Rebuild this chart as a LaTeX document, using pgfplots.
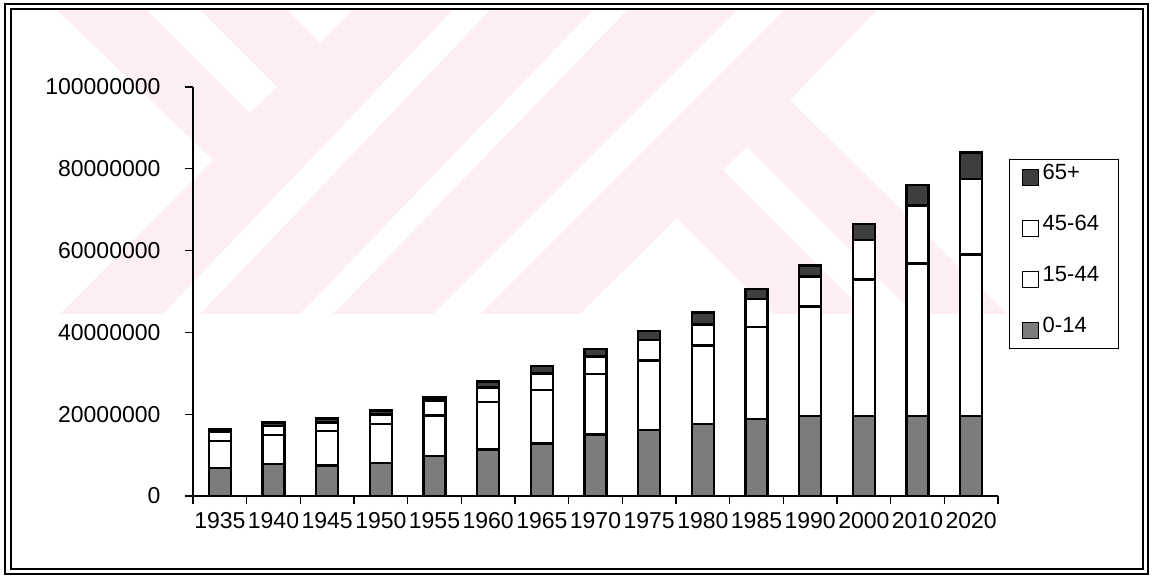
\documentclass[border=0pt]{standalone}
\usepackage{pgfplots}
\pgfplotsset{compat=1.18}
\usepackage{pgfplotstable}
\usepackage{fontspec}
\setmainfont{Liberation Sans}
\definecolor{kid}{HTML}{7C7C7C}
\definecolor{old}{HTML}{3E3E3E}
\definecolor{wm}{HTML}{FDEEF1}
\pgfplotstableread{
x  year a b c d
0  1935 6800000  6600000  2200000 600000
1  1940 7800000  7100000  2200000 900000
2  1945 7400000  8500000  2100000 1000000
3  1950 8100000  9500000  2400000 900000
4  1955 9800000  9900000  3600000 800000
5  1960 11400000 11600000 3500000 1500000
6  1965 12900000 13000000 4100000 1800000
7  1970 15100000 14700000 4300000 1800000
8  1975 16100000 17100000 4900000 2200000
9  1980 17600000 19200000 5100000 2900000
10 1985 18800000 22500000 6900000 2400000
11 1990 19600000 26700000 7300000 2800000
12 2000 19600000 33400000 9600000 3900000
13 2010 19600000 37300000 14100000 5000000
14 2020 19600000 39500000 18400000 6500000
}\datatable
\begin{document}
\begin{tikzpicture}[x=1pt,y=1pt]
\useasboundingbox (0,0) rectangle (1153,576);
% faint watermark of the scanned page
\fill[wm] (57,566) -- (877,566) -- (790,476) -- (1007,262) -- (60,262) -- (213,416) -- cycle;
\fill[white] (147,566) -- (200,566) -- (277,489) -- (250,463) -- cycle;
\fill[white] (287,566) -- (353,566) -- (320,533) -- cycle;
\fill[white] (163,262) -- (200,262) -- (490,566) -- (453,566) -- cycle;
\fill[white] (300,262) -- (333,262) -- (627,566) -- (593,566) -- cycle;
\fill[white] (433,262) -- (480,262) -- (784,566) -- (737,566) -- cycle;
\fill[white] (723,406) -- (747,429) -- (914,262) -- (867,262) -- cycle;
\fill[white] (677,358) -- (580,262) -- (773,262) -- cycle;
\draw[line width=2.5pt] (5,2) rectangle (1148,572);
\draw[line width=1.8pt] (11,7) rectangle (1143,567);
\begin{axis}[
  at={(193pt,80pt)}, anchor=south west,
  scale only axis, width=805pt, height=409pt,
  xmin=-0.5, xmax=14.5, ymin=0, ymax=100000000,
  separate axis lines,
  axis x line*=bottom, axis y line*=left,
  x axis line style={-, line width=1.2pt},
  y axis line style={-, line width=1.2pt},
  tick align=outside, major tick length=8pt,
  tick style={black, line width=1.2pt},
  /pgf/number format/assume math mode=true,
  tick label style={font=\fontsize{23}{25}\selectfont},
  ytick={0,20000000,40000000,60000000,80000000,100000000},
  yticklabels={0,20000000,40000000,60000000,80000000,100000000},
  scaled y ticks=false,
  yticklabel style={xshift=-21pt},
  xtick={-0.5,0.5,...,14.5},
  xticklabels={},
  extra x ticks={0,1,2,3,4,5,6,7,8,9,10,11,12,13,14},
  extra x tick labels={1935,1940,1945,1950,1955,1960,1965,1970,1975,1980,1985,1990,2000,2010,2020},
  extra x tick style={major tick length=0pt, xticklabel style={yshift=-13pt}},
  ybar stacked, bar width=22pt,
  reverse legend,
  legend cell align=left,
  legend style={at={(1.0137,0.8235)}, anchor=north west, draw=black, line width=1pt,
    font=\fontsize{22}{24}\selectfont, inner xsep=12pt, inner ysep=4pt,
    row sep=23pt, column sep=4pt,
    nodes={inner sep=0pt, text height=16pt, text depth=12pt}},
]
\addplot[fill=kid, draw=black, line width=2.6pt,
  legend image code/.code={\draw[fill=kid,draw=black,line width=1.2pt] (0pt,-8pt) rectangle (16pt,8pt);}]
  table[x=x,y=a]{\datatable};
\addplot[fill=white, draw=black, line width=2.6pt,
  legend image code/.code={\draw[fill=white,draw=black,line width=1.2pt] (0pt,-8pt) rectangle (16pt,8pt);}]
  table[x=x,y=b]{\datatable};
\addplot[fill=white, draw=black, line width=2.6pt,
  legend image code/.code={\draw[fill=white,draw=black,line width=1.2pt] (0pt,-8pt) rectangle (16pt,8pt);}]
  table[x=x,y=c]{\datatable};
\addplot[fill=old, draw=black, line width=2.6pt,
  legend image code/.code={\draw[fill=old,draw=black,line width=1.2pt] (0pt,-8pt) rectangle (16pt,8pt);}]
  table[x=x,y=d]{\datatable};
\legend{\makebox[64pt][l]{0-14},\makebox[64pt][l]{15-44},\makebox[64pt][l]{45-64},\makebox[64pt][l]{65+}}
\end{axis}
\end{tikzpicture}
\end{document}
